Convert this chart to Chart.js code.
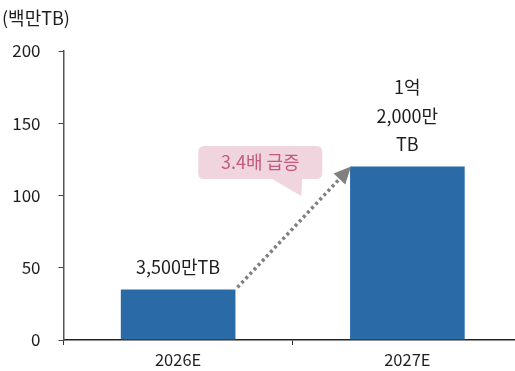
<!DOCTYPE html>
<html>
<head>
<meta charset="utf-8">
<script src="https://cdn.jsdelivr.net/npm/chart.js@4"></script>
<style>
  html, body { margin: 0; padding: 0; background: #fff; overflow: hidden; }
  #wrap { width: 515px; height: 371px; overflow: hidden; }
  canvas { display: block; }
</style>
</head>
<body>
<div id="wrap"><canvas id="chart" width="522" height="371"></canvas></div>
<script>
const years = ['2026E', '2027E'];
const capacity = [35, 120];
const valueLabels = [['3,500만TB'], ['1억', '2,000만', 'TB']];
const yTicks = [0, 50, 100, 150, 200];
const unitLabel = '(백만TB)';
const growthLabel = '3.4배 급증';

const FONT = '"Noto Sans CJK KR", "Noto Sans", sans-serif';
const TEXT = '#1e1e1e';

// unit label, value labels above bars, dotted arrow and callout
const extras = {
  id: 'extras',
  afterDatasetsDraw(chart) {
    const ctx = chart.ctx;
    const bars = chart.getDatasetMeta(0).data;
    ctx.save();

    ctx.fillStyle = TEXT;
    ctx.font = '18px ' + FONT;
    ctx.textAlign = 'left';
    ctx.textBaseline = 'middle';
    ctx.fillText(unitLabel, 2, 18);

    ctx.textAlign = 'center';
    ctx.font = '18px ' + FONT;
    bars.forEach((bar, i) => {
      const lines = valueLabels[i];
      lines.forEach((line, j) => {
        const y = bar.y - 22 - (lines.length - 1 - j) * 28.5;
        ctx.fillText(line, bar.x, y);
      });
    });

    // dotted arrow from top of first bar to top of second
    const x0 = bars[0].x + bars[0].width / 2 + 2;
    const y0 = bars[0].y - 2;
    const x1 = bars[1].x - bars[1].width / 2 + 1;
    const y1 = bars[1].y;
    const ang = Math.atan2(y1 - y0, x1 - x0);
    const headLen = 17, headW = 8;
    const bx = x1 - Math.cos(ang) * headLen;
    const by = y1 - Math.sin(ang) * headLen;
    ctx.strokeStyle = '#808080';
    ctx.lineWidth = 3.5;
    ctx.setLineDash([3, 3]);
    ctx.beginPath();
    ctx.moveTo(x0, y0);
    ctx.lineTo(bx + Math.cos(ang) * 3, by + Math.sin(ang) * 3);
    ctx.stroke();
    ctx.setLineDash([]);
    ctx.fillStyle = '#808080';
    ctx.beginPath();
    ctx.moveTo(x1, y1);
    ctx.lineTo(bx + Math.sin(ang) * headW, by - Math.cos(ang) * headW);
    ctx.lineTo(bx - Math.sin(ang) * headW, by + Math.cos(ang) * headW);
    ctx.closePath();
    ctx.fill();

    // callout box with tail
    const mx = (x0 + x1) / 2, my = (y0 + y1) / 2;
    const bw = 124, bh = 33, r = 6;
    const left = mx - 96, top = my - 81;
    const right = left + bw, bottom = top + bh;
    ctx.fillStyle = '#f0d4de';
    ctx.beginPath();
    ctx.moveTo(left + r, top);
    ctx.lineTo(right - r, top);
    ctx.quadraticCurveTo(right, top, right, top + r);
    ctx.lineTo(right, bottom - r);
    ctx.quadraticCurveTo(right, bottom, right - r, bottom);
    ctx.lineTo(left + 104, bottom);
    ctx.lineTo(left + 103, bottom + 17);
    ctx.lineTo(left + 74, bottom);
    ctx.lineTo(left + r, bottom);
    ctx.quadraticCurveTo(left, bottom, left, bottom - r);
    ctx.lineTo(left, top + r);
    ctx.quadraticCurveTo(left, top, left + r, top);
    ctx.closePath();
    ctx.fill();
    ctx.fillStyle = '#c25a80';
    ctx.font = '18px ' + FONT;
    ctx.textAlign = 'center';
    ctx.textBaseline = 'middle';
    ctx.fillText(growthLabel, left + bw / 2, top + bh / 2);

    ctx.restore();
  }
};

new Chart(document.getElementById('chart'), {
  type: 'bar',
  data: {
    labels: years,
    datasets: [{
      data: capacity,
      backgroundColor: '#2a6aa7',
      borderWidth: 0,
      categoryPercentage: 1,
      barPercentage: 0.5
    }]
  },
  options: {
    responsive: false,
    animation: false,
    layout: { padding: { top: 51, left: 0, right: 0, bottom: 0 } },
    plugins: {
      legend: { display: false },
      tooltip: { enabled: false }
    },
    scales: {
      x: {
        offset: true,
        afterFit(axis) { axis.height = 31; },
        grid: {
          offset: true,
          drawOnChartArea: false,
          drawTicks: true,
          tickLength: 5,
          color: '#333'
        },
        border: { display: true, color: '#222', width: 1.5 },
        ticks: {
          color: TEXT,
          font: { family: FONT, size: 16.5 },
          padding: 5
        }
      },
      y: {
        min: 0,
        max: 200,
        afterFit(axis) { axis.width = 63.5; },
        afterBuildTicks(axis) { axis.ticks = yTicks.map(v => ({ value: v })); },
        grid: {
          drawOnChartArea: false,
          drawTicks: true,
          tickLength: 5,
          color: '#444'
        },
        border: { display: true, color: '#555', width: 1.5 },
        ticks: {
          color: TEXT,
          font: { family: FONT, size: 17 },
          padding: 18
        }
      }
    }
  },
  plugins: [extras]
});
</script>
</body>
</html>
